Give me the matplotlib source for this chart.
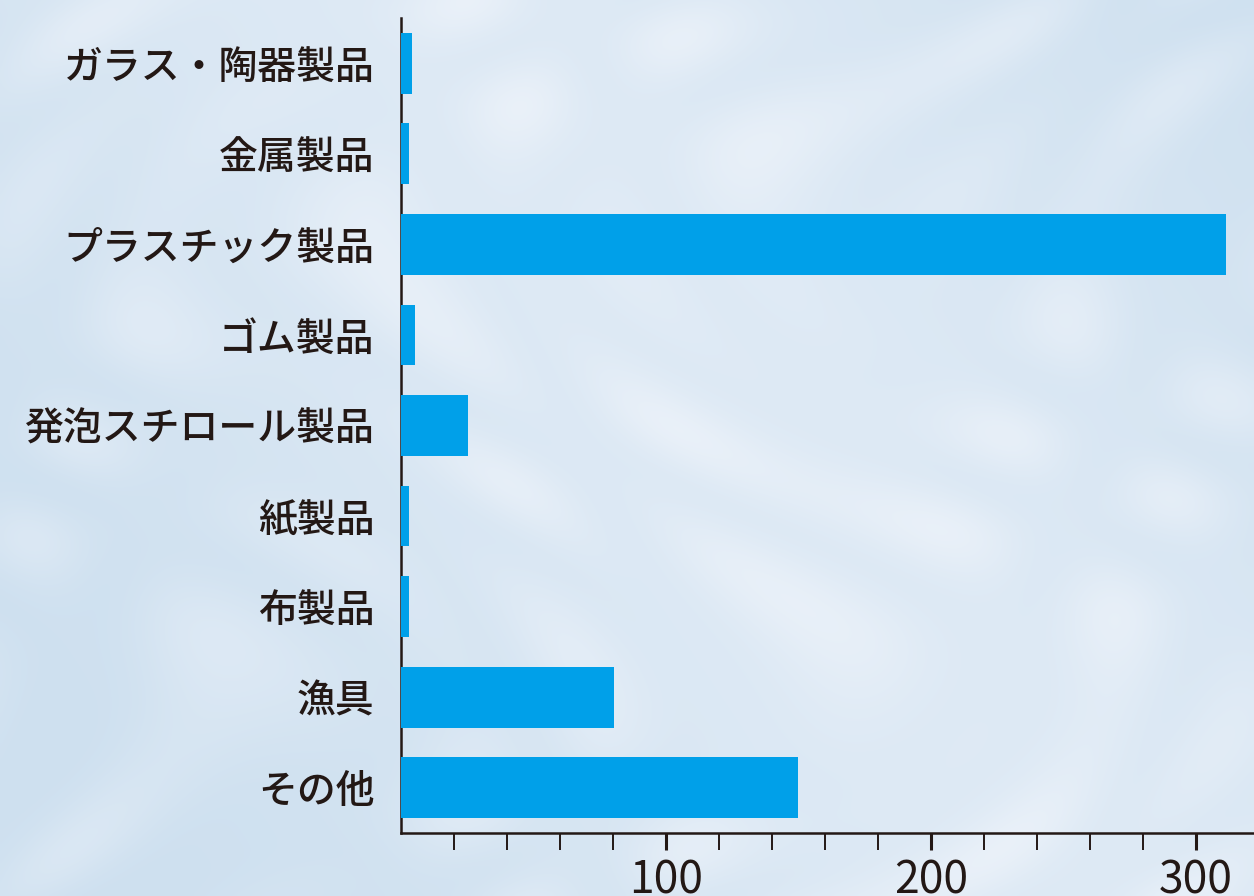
import numpy as np
import matplotlib
matplotlib.use('Agg')
import matplotlib.pyplot as plt

plt.rcParams['font.family'] = ['Noto Sans CJK JP', 'DejaVu Sans']

# categories from top to bottom
categories = ['ガラス・陶器製品', '金属製品', 'プラスチック製品', 'ゴム製品',
              '発泡スチロール製品', '紙製品', '布製品', '漁具', 'その他']
values = [4.3, 3.0, 311.5, 5.3, 25.3, 3.0, 3.0, 80.3, 150.0]
major_ticks = [100, 200, 300]
minor_ticks = [20, 40, 60, 80, 120, 140, 160, 180, 220, 240, 260, 280]

BAR_COLOR = '#00a0e9'
INK = '#231815'

fig = plt.figure(figsize=(12.54, 8.96), dpi=100)

# soft watery background (decoration only)
bg = fig.add_axes([0, 0, 1, 1], zorder=-1)
yy, xx = np.mgrid[0:1:300j, 0:1.4:420j]
ripple = (np.sin(9 * xx + 4 * np.sin(6 * yy)) * np.sin(7 * yy + 3 * np.sin(5 * xx))) ** 2
light = 0.5 + 0.5 * np.sin(3 * xx - 2 * yy)
base = np.array([0.81, 0.88, 0.94])
white = np.array([0.96, 0.97, 0.99])
w = (0.3 * ripple + 0.4 * light)[..., None]
img = base * (1 - w) + white * w
bg.imshow(img, aspect='auto', extent=[0, 1, 0, 1], interpolation='bicubic')
bg.set_axis_off()

ax = fig.add_axes([401 / 1254, 1 - 833 / 896, 1 - 401 / 1254, (833 - 18) / 896])
ax.patch.set_alpha(0)

y = np.arange(len(categories))
ax.barh(y, values, height=0.67, color=BAR_COLOR, zorder=3)

ax.set_ylim(len(categories) - 0.5, -0.5)
ax.set_xlim(0, 322)
ax.set_yticks(y)
ax.set_yticklabels(categories, fontsize=28, color=INK, fontweight='medium')
ax.tick_params(axis='y', length=0, pad=19)

ax.set_xticks(major_ticks)
ax.set_xticks(minor_ticks, minor=True)
ax.set_xticklabels([str(t) for t in major_ticks], fontsize=32, color=INK)
ax.tick_params(axis='x', which='major', length=12.5, width=2.2, color=INK, pad=5)
ax.tick_params(axis='x', which='minor', length=12.5, width=1.4, color=INK)

for side in ['top', 'right']:
    ax.spines[side].set_visible(False)
for side in ['left', 'bottom']:
    ax.spines[side].set_linewidth(1.8)
    ax.spines[side].set_color(INK)

fig.savefig('out.png', dpi=100)
